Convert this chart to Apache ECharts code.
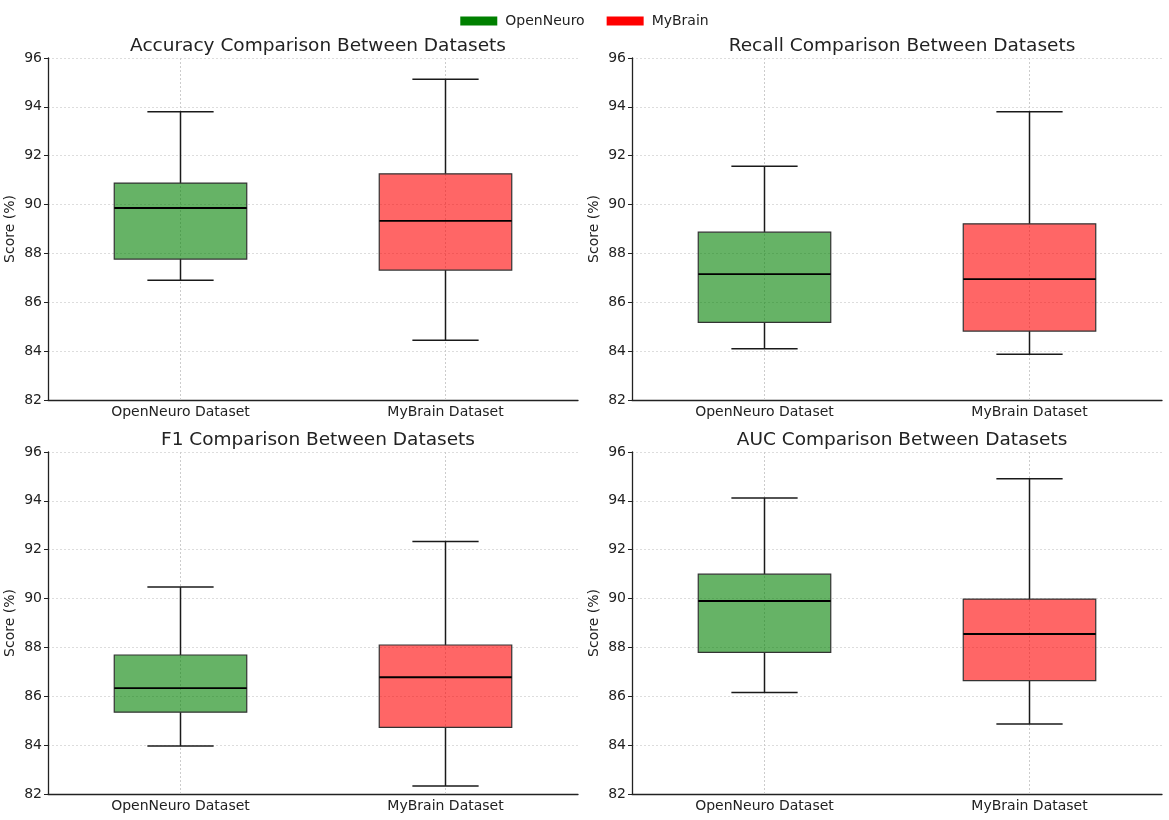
<!DOCTYPE html>
<html>
<head>
<meta charset="utf-8">
<script src="https://cdn.jsdelivr.net/npm/echarts@6/dist/echarts.min.js"></script>
<style>
html,body{margin:0;padding:0;background:#fff;}
#chart{width:1169px;height:820px;}
</style>
</head>
<body>
<div id="chart"></div>
<script>
// ---- data: [min, Q1, median, Q3, max] ----
const categories = ['OpenNeuro Dataset', 'MyBrain Dataset'];
const datasetNames = ['OpenNeuro', 'MyBrain'];
const panelTitles = ['Accuracy Comparison Between Datasets', 'Recall Comparison Between Datasets',
                     'F1 Comparison Between Datasets', 'AUC Comparison Between Datasets'];
const yTicks = [82, 96, 2];

const accuracyOpenNeuro = [86.9, 87.77, 89.86, 90.88, 93.8];
const accuracyMyBrain   = [84.45, 87.32, 89.33, 91.26, 95.13];
const recallOpenNeuro   = [84.1, 85.18, 87.15, 88.87, 91.57];
const recallMyBrain     = [83.87, 84.82, 86.95, 89.21, 93.8];
const f1OpenNeuro       = [83.96, 85.35, 86.33, 87.69, 90.47];
const f1MyBrain         = [82.33, 84.73, 86.78, 88.1, 92.34];
const aucOpenNeuro      = [86.15, 87.8, 89.9, 91.0, 94.12];
const aucMyBrain        = [84.87, 86.64, 88.55, 89.98, 94.9];

const panelData = [
  [accuracyOpenNeuro, accuracyMyBrain],
  [recallOpenNeuro, recallMyBrain],
  [f1OpenNeuro, f1MyBrain],
  [aucOpenNeuro, aucMyBrain]
];

const fillColors = ['rgba(0,128,0,0.6)', 'rgba(255,0,0,0.6)'];
const legendColors = ['#008000', '#ff0000'];
const FONT = 'DejaVu Sans';

const grids = [
  {left: 48, top: 58, width: 530, height: 342},
  {left: 632, top: 58, width: 530, height: 342},
  {left: 48, top: 452, width: 530, height: 342},
  {left: 632, top: 452, width: 530, height: 342}
];

function renderItem(params, api) {
  const idx = api.value(0);
  const mn = api.value(1), q1 = api.value(2), md = api.value(3), q3 = api.value(4), mx = api.value(5);
  const cx = api.coord([idx, md])[0];
  const band = api.size([1, 0])[0];
  const bw = band * 0.5, cw = band * 0.25;
  const y = v => api.coord([idx, v])[1];
  const cs = params.coordSys;
  const line = (x1, y1, x2, y2, style) => ({type: 'line', shape: {x1, y1, x2, y2}, style});
  const wStyle = {stroke: '#1a1a1a', lineWidth: 1.5};
  return {
    type: 'group',
    children: [
      line(cx, cs.y, cx, cs.y + cs.height, {stroke: '#cccccc', lineWidth: 1, lineDash: [2, 2]}),
      line(cx, y(q3), cx, y(mx), wStyle),
      line(cx, y(q1), cx, y(mn), wStyle),
      line(cx - cw / 2, y(mx), cx + cw / 2, y(mx), wStyle),
      line(cx - cw / 2, y(mn), cx + cw / 2, y(mn), wStyle),
      {type: 'rect', shape: {x: cx - bw / 2, y: y(q3), width: bw, height: y(q1) - y(q3)},
       style: {fill: api.visual('color'), stroke: '#333333', lineWidth: 1.2}},
      line(cx - bw / 2, y(md), cx + bw / 2, y(md), {stroke: '#000', lineWidth: 1.8})
    ]
  };
}

const option = {
  backgroundColor: '#fff',
  animation: false,
  textStyle: {fontFamily: FONT},
  legend: {
    top: 9, left: 'center', itemWidth: 37, itemHeight: 9, itemGap: 22,
    textStyle: {fontFamily: FONT, fontSize: 14, color: '#222', padding: [0, 0, 0, 3]},
    data: datasetNames.map((n, i) => ({name: n, icon: 'rect', itemStyle: {color: legendColors[i]}}))
  },
  title: panelTitles.map((t, i) => ({
    text: t, left: grids[i].left + grids[i].width / 2, top: grids[i].top - 26, textAlign: 'center',
    textStyle: {fontFamily: FONT, fontSize: 18.5, fontWeight: 'normal', color: '#222'}
  })),
  grid: grids,
  xAxis: grids.map((g, i) => ({
    type: 'category', gridIndex: i, data: categories, boundaryGap: true,
    axisLine: {lineStyle: {color: '#222', width: 1.3}},
    axisTick: {alignWithLabel: true, length: 4, lineStyle: {color: '#222'}},
    axisLabel: {fontFamily: FONT, fontSize: 14, color: '#222', margin: 5},
    splitLine: {show: false}
  })),
  yAxis: grids.map((g, i) => ({
    type: 'value', gridIndex: i, min: yTicks[0], max: yTicks[1], interval: yTicks[2],
    name: 'Score (%)', nameLocation: 'middle', nameGap: 31, nameRotate: 90,
    nameTextStyle: {fontFamily: FONT, fontSize: 14, color: '#222'},
    axisLine: {show: true, lineStyle: {color: '#222', width: 1.3}},
    axisTick: {show: true, length: 4, lineStyle: {color: '#222'}},
    axisLabel: {fontFamily: FONT, fontSize: 14, color: '#222', margin: 6},
    splitLine: {show: true, lineStyle: {color: '#dddddd', type: [2, 2]}}
  })),
  series: []
};

panelData.forEach((pair, p) => {
  pair.forEach((vals, d) => {
    option.series.push({
      type: 'custom', name: datasetNames[d], xAxisIndex: p, yAxisIndex: p,
      itemStyle: {color: fillColors[d]},
      renderItem: renderItem,
      encode: {x: 0, y: [1, 2, 3, 4, 5]},
      data: [[d].concat(vals)]
    });
  });
});

const chart = echarts.init(document.getElementById('chart'), null, {renderer: 'canvas'});
chart.setOption(option);
</script>
</body>
</html>
